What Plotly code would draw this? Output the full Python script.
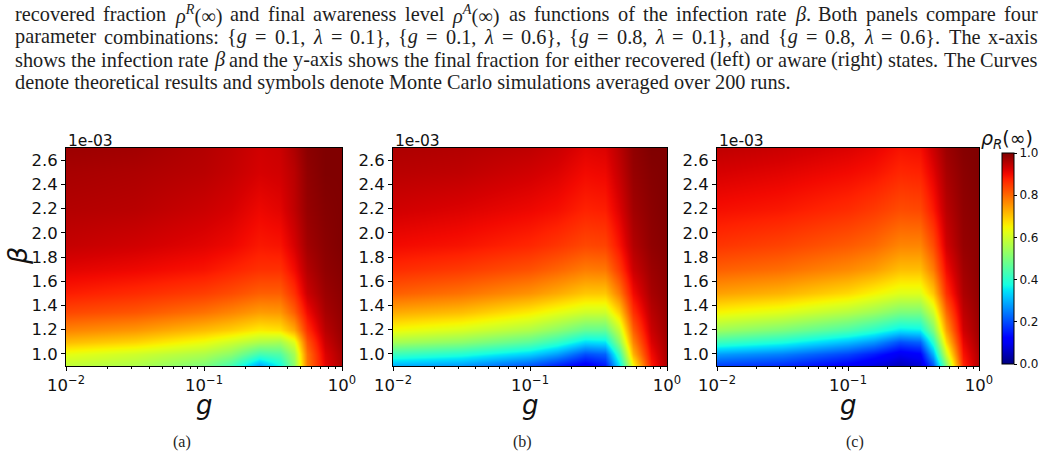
import re
import numpy as np
import plotly.graph_objects as go

# ---------------- data ----------------
g_values = [0.01, 0.0316, 0.1, 0.158, 0.251, 0.355, 0.447, 0.562, 0.759, 1.0]
beta_values = [0.9, 1.0, 1.1, 1.2, 1.35, 1.5, 1.7, 1.9, 2.2, 2.5, 2.7]  # x 1e-03

rho_a = [
    [0.58, 0.56, 0.50, 0.43, 0.28, 0.37, 0.52, 0.78, 0.91, 0.96],
    [0.63, 0.60, 0.56, 0.52, 0.43, 0.45, 0.55, 0.79, 0.92, 0.965],
    [0.71, 0.685, 0.635, 0.60, 0.56, 0.55, 0.62, 0.82, 0.935, 0.975],
    [0.77, 0.75, 0.71, 0.69, 0.66, 0.67, 0.73, 0.86, 0.95, 0.98],
    [0.835, 0.82, 0.79, 0.77, 0.745, 0.75, 0.81, 0.90, 0.965, 0.985],
    [0.88, 0.865, 0.845, 0.83, 0.81, 0.81, 0.86, 0.935, 0.975, 0.99],
    [0.915, 0.905, 0.89, 0.875, 0.86, 0.86, 0.90, 0.955, 0.985, 0.995],
    [0.94, 0.93, 0.915, 0.905, 0.885, 0.89, 0.925, 0.97, 0.99, 1.0],
    [0.955, 0.95, 0.935, 0.925, 0.905, 0.915, 0.945, 0.98, 0.995, 1.0],
    [0.965, 0.96, 0.95, 0.94, 0.925, 0.93, 0.95, 0.985, 1.0, 1.0],
    [0.975, 0.97, 0.955, 0.945, 0.93, 0.935, 0.96, 0.99, 1.0, 1.0],
]
rho_b = [
    [0.29, 0.27, 0.20, 0.15, 0.10, 0.14, 0.34, 0.64, 0.88, 0.96],
    [0.42, 0.39, 0.33, 0.28, 0.20, 0.22, 0.42, 0.72, 0.90, 0.965],
    [0.55, 0.52, 0.46, 0.41, 0.34, 0.35, 0.52, 0.77, 0.92, 0.97],
    [0.64, 0.61, 0.56, 0.52, 0.47, 0.47, 0.59, 0.81, 0.935, 0.975],
    [0.73, 0.71, 0.66, 0.63, 0.60, 0.60, 0.69, 0.86, 0.95, 0.98],
    [0.81, 0.79, 0.755, 0.73, 0.70, 0.70, 0.78, 0.90, 0.965, 0.985],
    [0.865, 0.85, 0.825, 0.805, 0.78, 0.785, 0.85, 0.935, 0.975, 0.99],
    [0.90, 0.89, 0.87, 0.855, 0.835, 0.84, 0.89, 0.955, 0.985, 0.995],
    [0.93, 0.92, 0.905, 0.895, 0.875, 0.88, 0.92, 0.97, 0.99, 1.0],
    [0.95, 0.945, 0.93, 0.92, 0.90, 0.905, 0.94, 0.98, 0.995, 1.0],
    [0.96, 0.955, 0.945, 0.935, 0.915, 0.92, 0.95, 0.985, 1.0, 1.0],
]
rho_c = [
    [0.18, 0.16, 0.11, 0.08, 0.05, 0.07, 0.20, 0.50, 0.87, 0.955],
    [0.28, 0.25, 0.19, 0.15, 0.10, 0.12, 0.30, 0.60, 0.89, 0.96],
    [0.42, 0.38, 0.31, 0.27, 0.20, 0.22, 0.40, 0.68, 0.91, 0.97],
    [0.54, 0.50, 0.44, 0.40, 0.35, 0.36, 0.50, 0.74, 0.93, 0.975],
    [0.65, 0.62, 0.57, 0.54, 0.50, 0.50, 0.60, 0.80, 0.945, 0.98],
    [0.74, 0.72, 0.68, 0.65, 0.62, 0.62, 0.70, 0.86, 0.96, 0.985],
    [0.81, 0.795, 0.765, 0.745, 0.71, 0.71, 0.78, 0.90, 0.97, 0.99],
    [0.855, 0.84, 0.815, 0.80, 0.77, 0.77, 0.83, 0.93, 0.98, 0.99],
    [0.895, 0.885, 0.865, 0.85, 0.83, 0.835, 0.885, 0.95, 0.985, 0.995],
    [0.925, 0.915, 0.90, 0.89, 0.87, 0.875, 0.915, 0.965, 0.99, 1.0],
    [0.945, 0.935, 0.92, 0.91, 0.89, 0.895, 0.935, 0.975, 0.995, 1.0],
]
panels = [rho_a, rho_b, rho_c]
panel_labels = ["(a)", "(b)", "(c)"]
y_ticks = [1.0, 1.2, 1.4, 1.6, 1.8, 2.0, 2.2, 2.4, 2.6]
x_ticks = [0.01, 0.1, 1.0]
x_ticktext = ["10<sup>\u22122</sup>", "10<sup>\u22121</sup>", "10<sup>0</sup>"]
cbar_ticks = [0.0, 0.2, 0.4, 0.6, 0.8, 1.0]

caption_lines = [
    "recovered fraction <i>ρ</i><sup><i>R</i></sup>(∞) and final awareness level <i>ρ</i><sup><i>A</i></sup>(∞) as functions of the infection rate <i>β</i>. Both panels compare four",
    "parameter combinations: {<i>g</i> = 0.1, <i>λ</i> = 0.1}, {<i>g</i> = 0.1, <i>λ</i> = 0.6}, {<i>g</i> = 0.8, <i>λ</i> = 0.1}, and {<i>g</i> = 0.8, <i>λ</i> = 0.6}. The x-axis",
    "shows the infection rate <i>β</i> and the y-axis shows the final fraction for either recovered (left) or aware (right) states. The Curves",
    "denote theoretical results and symbols denote Monte Carlo simulations averaged over 200 runs.",
]
justified = [True, True, True, False]

# ---------------- text-layout helper (Times-compatible advance widths) ----------------
_adv = dict(zip("abcdefghijklmnopqrstuvwxyz",
                [444, 500, 444, 500, 444, 333, 500, 500, 278, 278, 500, 278, 778, 500, 500,
                 500, 500, 333, 389, 278, 500, 500, 722, 500, 500, 444]))
_adv.update(dict(zip("ABCDEFGHIJKLMNOPQRSTUVWXYZ",
                     [722, 667, 667, 722, 611, 556, 722, 722, 333, 389, 722, 611, 889, 722, 722,
                      556, 722, 667, 556, 611, 722, 722, 944, 722, 722, 611])))
_adv.update({c: 500 for c in "0123456789"})
_adv.update({".": 250, ",": 250, ":": 278, "-": 333, "(": 333, ")": 333, "{": 480, "}": 480,
             "=": 564, " ": 250, "ρ": 500, "λ": 440, "β": 500, "∞": 713})

def text_width(html, size):
    total = 0.0
    for part in re.split(r"(<sup>.*?</sup>)", html):
        scale = 0.7 if part.startswith("<sup>") else 1.0
        plain = re.sub(r"<[^>]+>", "", part)
        total += scale * sum(_adv.get(ch, 500) for ch in plain)
    return total * size / 1000.0

W, H = 1048, 467
def px(x):
    return x / W
def py(y):
    return 1 - y / H

# ---------------- matplotlib "jet" colour scale ----------------
_r = ([0, 0.35, 0.66, 0.89, 1.0], [0, 0, 1, 1, 0.5])
_g = ([0, 0.125, 0.375, 0.64, 0.91, 1.0], [0, 0, 1, 1, 0, 0])
_b = ([0, 0.11, 0.34, 0.65, 1.0], [0.5, 1, 1, 0, 0])
jet = []
for s in np.linspace(0, 1, 41):
    r = np.interp(s, *_r); gg = np.interp(s, *_g); b = np.interp(s, *_b)
    jet.append([float(s), f"rgb({int(round(r*255))},{int(round(gg*255))},{int(round(b*255))})"])

x_domains = [(66, 342), (393, 667), (717, 979)]
y_top, y_bot = 148, 366

fig = go.Figure()
tickfont = dict(family="DejaVu Sans", size=16.5, color="#111")

for i, z in enumerate(panels):
    xa = "x" if i == 0 else f"x{i+1}"
    ya = "y" if i == 0 else f"y{i+1}"
    fig.add_trace(go.Heatmap(
        x=g_values, y=beta_values, z=z, zsmooth="best",
        coloraxis="coloraxis", xaxis=xa, yaxis=ya, hoverinfo="skip",
    ))
    xkey = "xaxis" if i == 0 else f"xaxis{i+1}"
    ykey = "yaxis" if i == 0 else f"yaxis{i+1}"
    x0, x1 = x_domains[i]
    fig.layout[xkey] = dict(
        domain=[px(x0), px(x1)], anchor=ya, type="log",
        range=[-2, 0], tickmode="array", tickvals=x_ticks, ticktext=x_ticktext,
        ticks="outside", ticklen=4, tickcolor="black", tickfont=tickfont,
        showline=True, linecolor="black", linewidth=1, mirror=True,
        showgrid=False, zeroline=False,
        minor=dict(ticks="outside", ticklen=2, tickcolor="black", dtick="D1", showgrid=False),
    )
    fig.layout[ykey] = dict(
        domain=[py(y_bot), py(y_top)], anchor=xa,
        range=[0.9, 2.7], tickmode="array", tickvals=y_ticks,
        ticktext=[f"{v:.1f}" for v in y_ticks],
        ticks="outside", ticklen=4, tickcolor="black", tickfont=tickfont,
        showline=True, linecolor="black", linewidth=1, mirror=True,
        showgrid=False, zeroline=False,
    )

fig.update_layout(
    width=W, height=H, margin=dict(l=0, r=0, t=0, b=0, autoexpand=False),
    paper_bgcolor="white", plot_bgcolor="white", showlegend=False,
    coloraxis=dict(
        colorscale=jet, cmin=0, cmax=1,
        colorbar=dict(
            x=px(1002), xanchor="left", y=py(364), yanchor="bottom",
            len=(364 - 153) / H, lenmode="fraction", thickness=12, thicknessmode="pixels",
            outlinewidth=1, outlinecolor="black", xpad=0, ypad=0,
            tickmode="array", tickvals=cbar_ticks, ticktext=[f"{v:.1f}" for v in cbar_ticks],
            ticks="outside", ticklen=3, tickcolor="black",
            tickfont=dict(family="DejaVu Sans", size=12, color="#111"),
        ),
    ),
)

ann = []
FS = 20.3
LEFT, RIGHT = 13, 1036
for k, line in enumerate(caption_lines):
    yk = py(14 + k * 22.8)
    font = dict(family="Liberation Serif", size=FS, color="#1e1e1e")
    if not justified[k]:
        ann.append(dict(xref="paper", yref="paper", x=px(LEFT), y=yk, xanchor="left",
                        yanchor="middle", text=line, showarrow=False, font=font))
        continue
    words = line.split(" ")
    widths = [text_width(w_, FS) for w_ in words]
    gap = (RIGHT - LEFT - sum(widths)) / (len(words) - 1)
    xpos = LEFT
    for w_, wd in zip(words, widths):
        ann.append(dict(xref="paper", yref="paper", x=px(xpos), y=yk, xanchor="left",
                        yanchor="middle", text=w_, showarrow=False, font=font))
        xpos += wd + gap

for i, (x0, x1) in enumerate(x_domains):
    ann.append(dict(xref="paper", yref="paper", x=px(x0), y=py(141), xanchor="left",
                    yanchor="middle", text="1e-03", showarrow=False,
                    font=dict(family="DejaVu Sans", size=15.5, color="#111")))
    ann.append(dict(xref="paper", yref="paper", x=px((x0 + x1) / 2), y=py(405),
                    xanchor="center", yanchor="middle", text="<i>g</i>", showarrow=False,
                    font=dict(family="DejaVu Sans", size=26, color="#111")))
cap_x = [182, 522, 855]
for i, lab in enumerate(panel_labels):
    ann.append(dict(xref="paper", yref="paper", x=px(cap_x[i]), y=py(442),
                    xanchor="center", yanchor="middle", text=lab, showarrow=False,
                    font=dict(family="Liberation Serif", size=16, color="#1e1e1e")))
ann.append(dict(xref="paper", yref="paper", x=px(17), y=py(256), xanchor="center",
                yanchor="middle", text="<i>β</i>", textangle=-90, showarrow=False,
                font=dict(family="DejaVu Sans", size=27, color="#111")))
ann.append(dict(xref="paper", yref="paper", x=px(1007), y=py(139), xanchor="center",
                yanchor="middle", text="<i>ρ</i><sub><i>R</i></sub>(∞)", showarrow=False,
                font=dict(family="DejaVu Sans", size=19, color="#111")))
fig.update_layout(annotations=ann)

fig.write_html("out.html")
